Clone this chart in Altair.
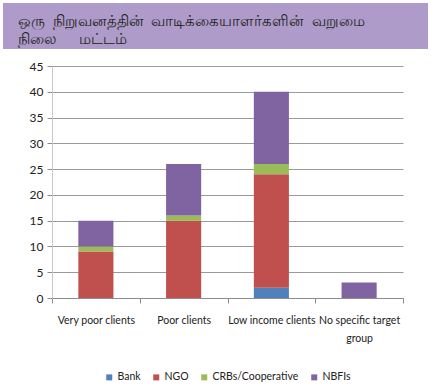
import altair as alt
import pandas as pd

categories = ["Very poor clients", "Poor clients", "Low income clients", "No specific target group"]
series = ["Bank", "NGO", "CRBs/Cooperative", "NBFIs"]
bank = [0, 0, 2, 0]
ngo = [9, 15, 22, 0]
crbs = [1, 1, 2, 0]
nbfis = [5, 10, 14, 3]
colors = ["#4F81BD", "#C0504D", "#9BBB59", "#8064A2"]
title_lines = ["ஒரு\u00a0\u00a0நிறுவனத்தின்\u00a0\u00a0வாடிக்கையாளர்களின்\u00a0\u00a0வறுமை",
               "நிலை\u00a0\u00a0\u00a0\u00a0\u00a0\u00a0மட்டம்"]

rows = []
for si, (name, vals) in enumerate(zip(series, [bank, ngo, crbs, nbfis])):
    for c, v in zip(categories, vals):
        rows.append({"category": c, "series": name, "value": v, "order": si})
df = pd.DataFrame(rows)

FONT = "Lato"

bars = alt.Chart(df).mark_bar(width={"band": 0.4}).encode(
    x=alt.X("category:N", sort=categories, title=None,
            scale=alt.Scale(paddingInner=0, paddingOuter=0),
            axis=alt.Axis(labelAngle=0, tickBand="extent", tickSize=5,
                          tickColor="#8c8c8c", domainColor="#8c8c8c",
                          labelPadding=12, labelFont=FONT, labelFontSize=10.5,
                          labelLineHeight=18, labelColor="#222222",
                          labelExpr="datum.label == 'No specific target group' ? ['No specific target', 'group'] : datum.label")),
    y=alt.Y("value:Q", stack="zero", title=None,
            scale=alt.Scale(domain=[0, 45], nice=False),
            axis=alt.Axis(values=list(range(0, 46, 5)), tickSize=5,
                          tickColor="#8c8c8c", domainColor="#c8c8c8",
                          gridColor="#9a9a9a", labelPadding=4,
                          labelFont=FONT, labelFontSize=12, labelColor="#222222")),
    color=alt.Color("series:N", sort=series,
                    scale=alt.Scale(domain=series, range=colors),
                    legend=alt.Legend(title=None, orient="none", direction="horizontal",
                                      legendX=52, legendY=306, symbolType="square",
                                      symbolSize=36, symbolStrokeWidth=0,
                                      labelFont=FONT, labelFontSize=10.5, labelColor="#222222",
                                      labelOffset=3, columnPadding=10, symbolOffset=0)),
    order=alt.Order("order:Q"),
)

band = alt.Chart(pd.DataFrame({"k": [0]})).mark_rect(color="#AE9BC9", clip=False).encode(
    x=alt.value(-49), x2=alt.value(376), y=alt.value(-63), y2=alt.value(-17)
)
t1 = alt.Chart(pd.DataFrame({"t": [title_lines[0]]})).mark_text(
    align="left", baseline="alphabetic", fontSize=14.5, color="#222222", font="Noto Sans"
).encode(text="t:N", x=alt.value(-34), y=alt.value(-40))
t2 = alt.Chart(pd.DataFrame({"t": [title_lines[1]]})).mark_text(
    align="left", baseline="alphabetic", fontSize=14.5, color="#222222", font="Noto Sans"
).encode(text="t:N", x=alt.value(-34), y=alt.value(-22))

chart = alt.layer(band, t1, t2, bars).properties(
    width=351, height=232,
    autosize=alt.AutoSizeParams(type="none"),
    padding={"left": 52, "top": 66, "right": 28, "bottom": 91},
    background="white",
).configure_view(stroke=None)

chart.save("out.html", embed_options={"renderer": "svg", "actions": False})
